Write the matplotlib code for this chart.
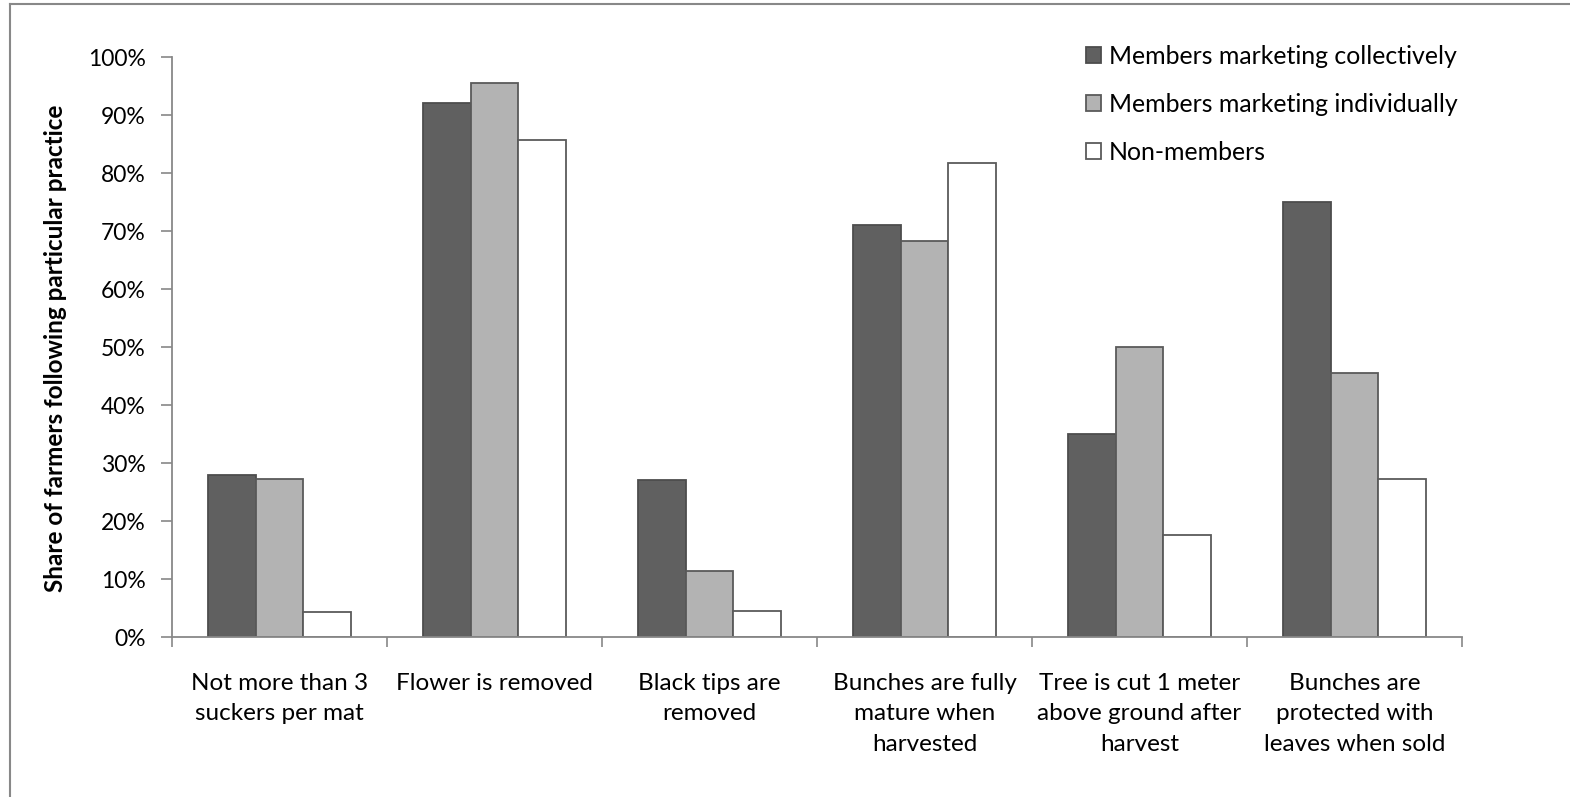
import numpy as np
import matplotlib
matplotlib.use("Agg")
import matplotlib.pyplot as plt
from matplotlib.lines import Line2D
from matplotlib.ticker import PercentFormatter

plt.rcParams['font.family'] = ['Lato', 'DejaVu Sans']

categories = [
    "Not more than 3\nsuckers per mat",
    "Flower is removed",
    "Black tips are\nremoved",
    "Bunches are fully\nmature when\nharvested",
    "Tree is cut 1 meter\nabove ground after\nharvest",
    "Bunches are\nprotected with\nleaves when sold",
]
series_names = ["Members marketing collectively", "Members marketing individually", "Non-members"]
collective = [28.0, 92.0, 27.0, 71.0, 35.0, 75.0]
individual = [27.3, 95.5, 11.4, 68.2, 50.0, 45.5]
non_members = [4.3, 85.7, 4.4, 81.8, 17.6, 27.3]

fill_colors = ["#606060", "#b3b3b3", "#ffffff"]
edge_colors = ["#4d4d4d", "#5a5a5a", "#5a5a5a"]

W, H = 1570, 797
fig = plt.figure(figsize=(W / 100, H / 100), dpi=100)
ax = fig.add_axes([172 / W, 1 - 637 / H, (1462 - 172) / W, (637 - 57) / H])

x = np.arange(len(categories))
bar_w = 0.223
for i, (vals, name) in enumerate(zip([collective, individual, non_members], series_names)):
    ax.bar(x + (i - 1) * bar_w, vals, width=bar_w, color=fill_colors[i],
           edgecolor=edge_colors[i], linewidth=1.3, label=name, zorder=2)

ax.set_xlim(-0.5, len(categories) - 0.5)
ax.set_ylim(0, 100)
ax.set_yticks(np.arange(0, 101, 10))
ax.yaxis.set_major_formatter(PercentFormatter(decimals=0))

# boundary ticks on x, labels centred on groups
ax.set_xticks(np.arange(-0.5, len(categories), 1.0))
ax.set_xticklabels([])
ax.set_xticks(x, minor=True)
ax.set_xticklabels(categories, minor=True, fontsize=17.5, linespacing=1.55, va="top")
ax.tick_params(axis="x", which="major", length=7, width=1.2, color="#888888", direction="out")
ax.tick_params(axis="x", which="minor", length=0, pad=26)
ax.tick_params(axis="y", length=8, width=1.2, color="#888888", direction="out",
               labelsize=16.5, pad=11)

for side in ["top", "right"]:
    ax.spines[side].set_visible(False)
for side in ["left", "bottom"]:
    ax.spines[side].set_color("#888888")
    ax.spines[side].set_linewidth(1.3)

ax.set_ylabel("Share of farmers following particular practice", fontsize=17.5,
              fontweight="bold")
ax.yaxis.set_label_coords(-0.0815, 0.497)

fig.legend(loc="upper left", bbox_to_anchor=(1086 / W, 1 - 45 / H), frameon=False,
           fontsize=17.9, handlelength=0.62, handleheight=0.62, handletextpad=0.3,
           labelspacing=1.0, borderaxespad=0, borderpad=0)

# the chart area frame is only visible on its left and top edges
fig.add_artist(Line2D([9.5 / W, 9.5 / W], [0, 1 - 4 / H], transform=fig.transFigure,
                      color="#888888", linewidth=1.5))
fig.add_artist(Line2D([9.5 / W, 1], [1 - 4 / H, 1 - 4 / H], transform=fig.transFigure,
                      color="#888888", linewidth=1.5))

fig.savefig("out.png", dpi=100)
